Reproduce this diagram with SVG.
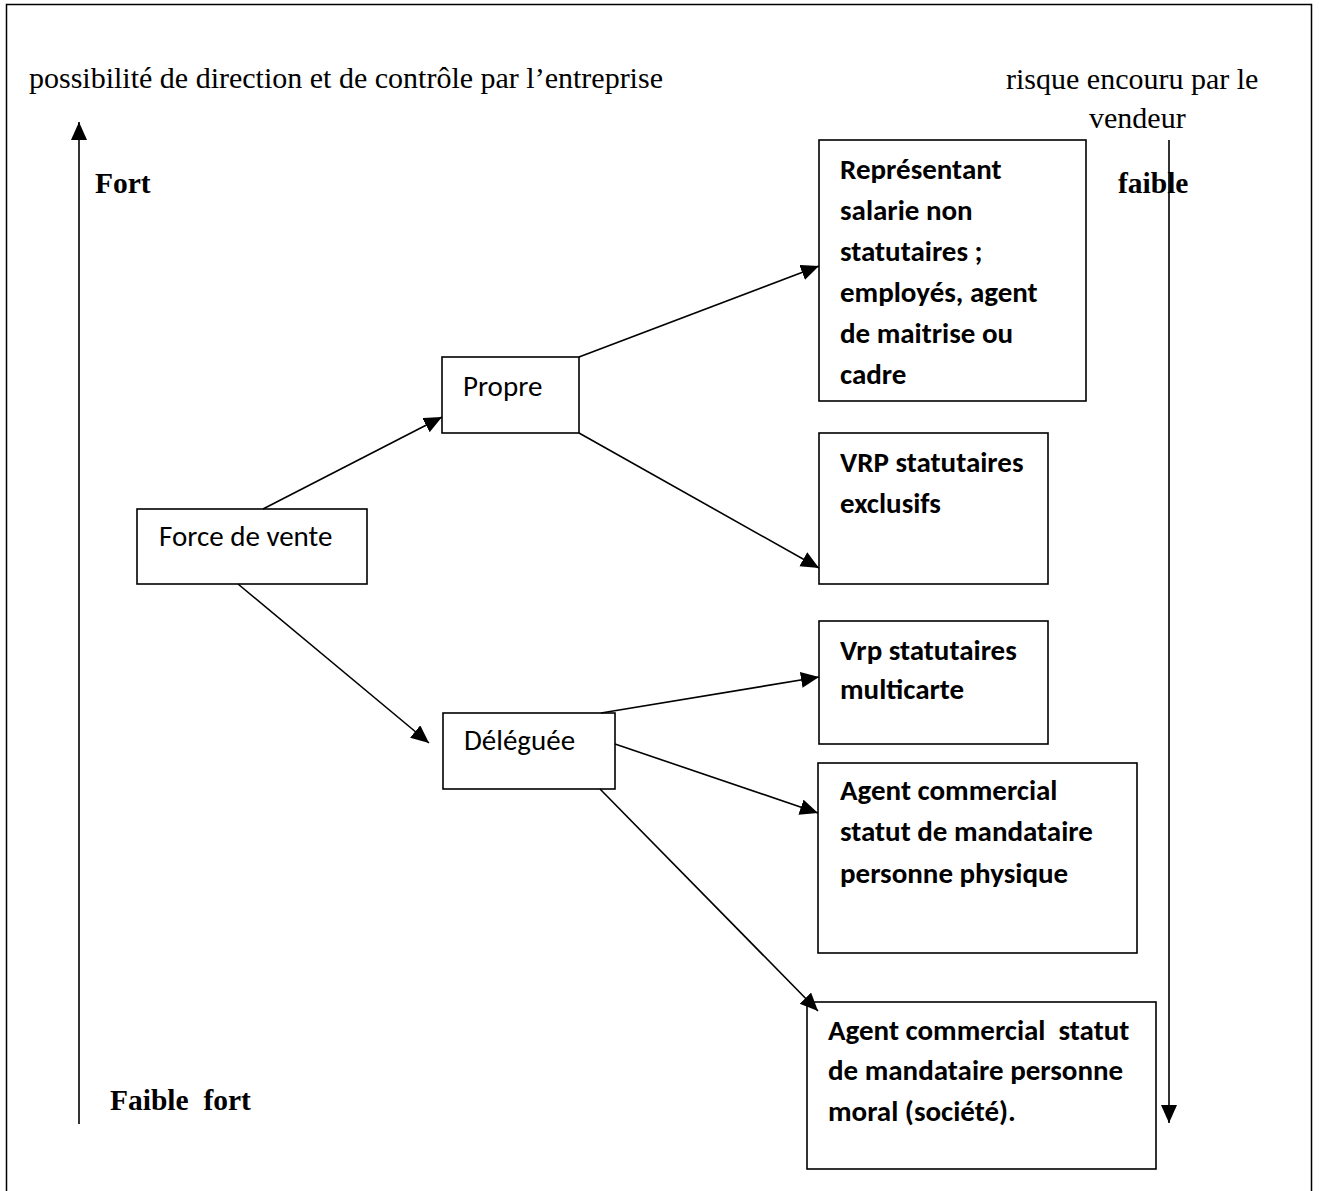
<svg xmlns="http://www.w3.org/2000/svg" width="1319" height="1191" viewBox="0 0 1319 1191">
  <style>
    .serif { font-family: "Liberation Serif", "Times New Roman", serif; font-size: 30px; fill: #000; }
    .serif-b { font-family: "Liberation Serif", "Times New Roman", serif; font-size: 29.5px; font-weight: bold; fill: #000; }
    .box { fill: none; stroke: #000; stroke-width: 1.6; }
    .lbl { font-family: Carlito, Lato, "Open Sans", sans-serif; font-size: 29px; fill: #000; }
    .lbl-b { font-family: Carlito, Lato, "Open Sans", sans-serif; font-size: 29px; font-weight: bold; fill: #000; }
    .wire { stroke: #000; stroke-width: 1.6; fill: none; }
  </style>
  <defs>
    <marker id="arrow" markerUnits="userSpaceOnUse" markerWidth="20" markerHeight="18" refX="18" refY="8" orient="auto">
      <path d="M0,0 L18,8 L0,16 Z" fill="#000"/>
    </marker>
  </defs>

  <rect width="1319" height="1191" fill="#fff"/>
  <!-- page frame (open at the bottom) -->
  <path d="M6.5,1191 V4.5 H1311.5 V1191" fill="none" stroke="#000" stroke-width="1.5"/>

  <!-- axis captions -->
  <g id="axis-left">
    <text class="serif" x="29" y="88">possibilité de direction et de contrôle par l’entreprise</text>
    <text class="serif-b" x="95" y="193">Fort</text>
    <text class="serif-b" x="110" y="1110" xml:space="preserve">Faible  fort</text>
  </g>
  <g id="axis-right">
    <text class="serif" x="1006" y="89">risque encouru par le</text>
    <text class="serif" x="1089" y="128">vendeur</text>
    <text class="serif-b" x="1118" y="193">faible</text>
  </g>

  <!-- connectors -->
  <g id="connectors">
    <line class="wire" x1="79" y1="1124" x2="79" y2="122" marker-end="url(#arrow)"/>
    <line class="wire" x1="1169" y1="140" x2="1169" y2="1123" marker-end="url(#arrow)"/>
    <line class="wire" x1="263" y1="509" x2="442" y2="417" marker-end="url(#arrow)"/>
    <line class="wire" x1="238" y1="584" x2="429" y2="743" marker-end="url(#arrow)"/>
    <line class="wire" x1="579" y1="357" x2="819" y2="266" marker-end="url(#arrow)"/>
    <line class="wire" x1="579" y1="433" x2="819" y2="568" marker-end="url(#arrow)"/>
    <line class="wire" x1="601" y1="713" x2="819" y2="677" marker-end="url(#arrow)"/>
    <line class="wire" x1="615" y1="744" x2="818" y2="813" marker-end="url(#arrow)"/>
    <line class="wire" x1="600" y1="789" x2="818" y2="1011" marker-end="url(#arrow)"/>
  </g>

  <!-- nodes -->
  <g id="force-de-vente">
    <rect class="box" x="137" y="509" width="230" height="75"/>
    <text class="lbl" x="159" y="546">Force de vente</text>
  </g>
  <g id="propre">
    <rect class="box" x="442" y="357" width="137" height="76"/>
    <text class="lbl" x="463" y="396">Propre</text>
  </g>
  <g id="deleguee">
    <rect class="box" x="443" y="713" width="172" height="76"/>
    <text class="lbl" x="464" y="750">Déléguée</text>
  </g>
  <g id="representant">
    <rect class="box" x="819" y="140" width="267" height="261"/>
    <text class="lbl-b" x="840" y="179">Représentant</text>
    <text class="lbl-b" x="840" y="220">salarie non</text>
    <text class="lbl-b" x="840" y="261">statutaires ;</text>
    <text class="lbl-b" x="840" y="302">employés, agent</text>
    <text class="lbl-b" x="840" y="343">de maitrise ou</text>
    <text class="lbl-b" x="840" y="384">cadre</text>
  </g>
  <g id="vrp-exclusifs">
    <rect class="box" x="819" y="433" width="229" height="151"/>
    <text class="lbl-b" x="840" y="472">VRP statutaires</text>
    <text class="lbl-b" x="840" y="513">exclusifs</text>
  </g>
  <g id="vrp-multicarte">
    <rect class="box" x="819" y="621" width="229" height="123"/>
    <text class="lbl-b" x="840" y="660">Vrp statutaires</text>
    <text class="lbl-b" x="840" y="699">multicarte</text>
  </g>
  <g id="agent-physique">
    <rect class="box" x="818" y="763" width="319" height="190"/>
    <text class="lbl-b" x="840" y="800">Agent commercial</text>
    <text class="lbl-b" x="840" y="841">statut de mandataire</text>
    <text class="lbl-b" x="840" y="883">personne physique</text>
  </g>
  <g id="agent-moral">
    <rect class="box" x="807" y="1002" width="349" height="167"/>
    <text class="lbl-b" x="828" y="1040" xml:space="preserve">Agent commercial  statut</text>
    <text class="lbl-b" x="828" y="1080">de mandataire personne</text>
    <text class="lbl-b" x="828" y="1121">moral (société).</text>
  </g>
</svg>
